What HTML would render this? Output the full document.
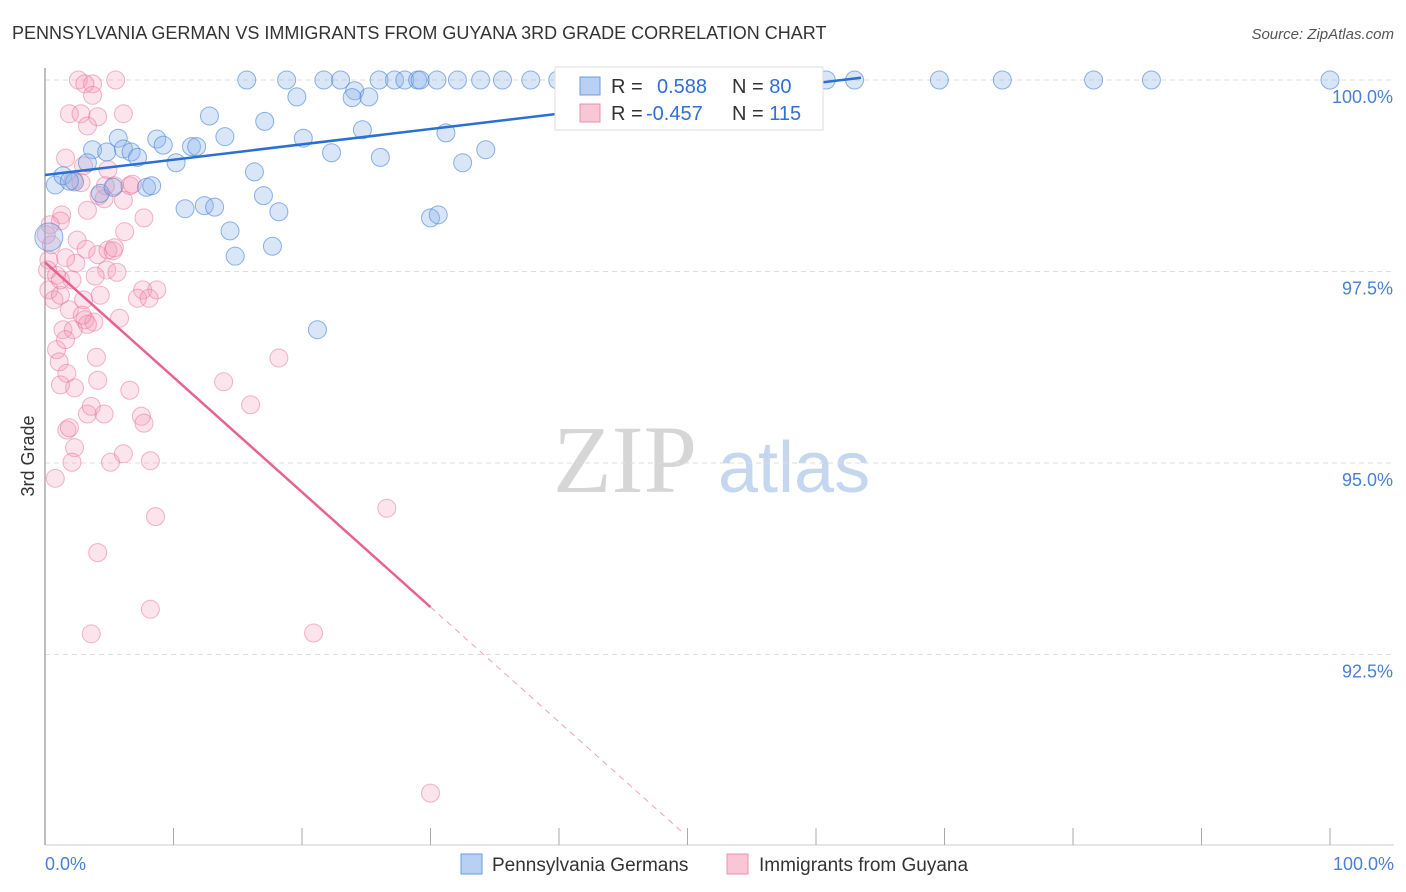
<!DOCTYPE html>
<html><head><meta charset="utf-8"><style>
body{margin:0;background:#fff;font-family:"Liberation Sans",sans-serif;}
svg{display:block}
</style></head><body>
<svg id="chart" width="1406" height="892" xmlns="http://www.w3.org/2000/svg">
<text x="12" y="39" font-size="18" fill="#333">PENNSYLVANIA GERMAN VS IMMIGRANTS FROM GUYANA 3RD GRADE CORRELATION CHART</text>
<text x="1394" y="39" font-size="15" fill="#555" font-style="italic" text-anchor="end">Source: ZipAtlas.com</text>
<g>
<text x="553" y="492" font-size="96" fill="#d6d6d6" font-family="Liberation Serif,serif">ZIP</text>
<text x="718" y="492" font-size="72" fill="#c5d7ee">atlas</text>
</g>
<g id="grid"></g>
<g id="axes"></g>
<g id="pink"></g>
<g id="blue"></g>
<g id="lines"></g>
<g>
<rect x="555" y="67" width="268" height="63" fill="#fff" stroke="#ddd"/>
<rect x="580" y="77" width="20" height="18" fill="#b8d0f3" stroke="#6a9ee0"/>
<rect x="580" y="104" width="20" height="18" fill="#f8c6d4" stroke="#ec8fab"/>
<text x="611" y="93" font-size="20" fill="#333">R = </text>
<text x="657" y="93" font-size="20" fill="#2f6fd6">0.588</text>
<text x="732" y="93" font-size="20" fill="#333">N = <tspan fill="#2f6fd6">80</tspan></text>
<text x="611" y="120" font-size="20" fill="#333">R = </text>
<text x="646" y="120" font-size="20" fill="#2f6fd6">-0.457</text>
<text x="732" y="120" font-size="20" fill="#333">N = <tspan fill="#2f6fd6">115</tspan></text>
</g>
<text transform="translate(34,456) rotate(-90)" font-size="18" fill="#333" text-anchor="middle">3rd Grade</text>
<text x="45" y="870" font-size="18" fill="#4a7fd4">0.0%</text>
<text x="1394" y="870" font-size="18" fill="#4a7fd4" text-anchor="end">100.0%</text>
<g>
<rect x="461" y="854" width="21" height="20" fill="#b8d0f3" stroke="#6a9ee0"/>
<text x="492" y="871" font-size="19" fill="#333">Pennsylvania Germans</text></g>
<g>
<rect x="727" y="854" width="21" height="20" fill="#f8c6d4" stroke="#ec8fab"/>
<text x="759" y="871" font-size="19" fill="#333">Immigrants from Guyana</text></g>
</svg>
<script>
const yTicks=[100,97.5,95,92.5];
const yTickLabels=["100.0%","97.5%","95.0%","92.5%"];
const blueX=[15.7,18.8,21.7,23.0,26.0,27.2,28.0,29.0,29.2,30.5,32.1,33.9,35.6,37.8,39.9,45.1,46.5,53.9,55.6,58.4,60.8,63.0,69.6,74.5,81.6,86.1,100,
19.6,24.1,25.2,23.9,12.8,17.1,24.7,31.2,20.1,5.7,8.7,14.0,34.3,3.7,4.8,6.1,6.7,9.2,11.4,11.8,7.2,10.2,22.3,26.1,32.5,16.3,0.8,1.4,2.3,1.9,3.3,4.3,5.3,7.9,8.3,10.9,12.4,13.2,17.0,18.2,14.4,14.8,17.7,30.0,30.6,21.2,0.3];
const blueY=[100,100,100,100,100,100,100,100,100,100,100,100,100,100,100,100,100,100,100,100,100,100,100,100,100,100,100,
99.78,99.86,99.78,99.77,99.53,99.46,99.35,99.31,99.24,99.24,99.23,99.26,99.09,99.09,99.06,99.10,99.06,99.15,99.13,99.13,98.99,98.92,99.05,98.99,98.92,98.80,98.63,98.75,98.67,98.68,98.92,98.52,98.60,98.60,98.62,98.32,98.36,98.34,98.49,98.28,98.03,97.70,97.83,98.20,98.24,96.74,97.95];
const pinkX=[2.6,3.7,3.1,5.5,3.7,1.9,2.8,4.1,6.1,3.3,1.6,4.9,3.0,2.2,2.8,4.7,4.2,4.6,5.4,6.6,6.1,6.8,7.7,3.3,1.3,1.2,0.4,0.1,2.5,2.4,0.3,1.6,3.2,4.1,4.9,5.3,5.4,6.2,7.6,8.7,7.2,8.1,0.3,0.7,1.9,3.0,4.3,4.8,5.6,3.9,2.1,0.9,1.2,3.1,3.8,5.8,1.4,2.2,3.3,0.9,1.1,1.7,4.0,2.3,3.3,4.1,1.2,6.6,4.6,3.6,7.5,7.7,1.7,1.9,2.3,2.1,5.1,6.1,8.2,0.8,8.6,4.1,8.2,3.6,13.9,16.0,18.2,26.6,20.9,30.0,1.2,0.2,0.5,1.6,2.9];
const pinkY=[100,99.95,99.95,100,99.80,99.56,99.56,99.52,99.56,99.40,98.98,98.83,98.88,98.69,98.66,98.62,98.49,98.45,98.62,98.62,98.43,98.64,98.20,98.30,98.24,98.16,98.11,97.98,97.91,97.61,97.65,97.68,97.79,97.72,97.78,97.77,97.81,98.02,97.26,97.26,97.15,97.15,97.26,97.13,97.00,97.13,97.19,97.52,97.49,97.44,97.39,97.45,97.19,96.87,96.84,96.89,96.74,96.74,96.81,96.48,96.32,96.17,96.38,95.98,95.64,96.08,96.02,95.95,95.64,95.74,95.61,95.52,95.43,95.46,95.20,95.01,95.01,95.12,95.03,94.80,94.30,93.83,93.09,92.77,96.06,95.76,96.37,94.41,92.78,90.69,97.39,97.52,97.85,96.61,96.93];
const blueTrend=[[0,98.76],[63.5,100.03]];
const pinkTrend=[[0,97.62],[30,93.12]];
const pinkDash=[[30,93.12],[49.8,90.15]];
const NS="http://www.w3.org/2000/svg";
const xs=p=>45+p*12.85;
const ys=v=>80+(100-v)*76.6;
function mk(tag,attrs,parent){const e=document.createElementNS(NS,tag);for(const k in attrs)e.setAttribute(k,attrs[k]);parent.appendChild(e);return e;}
const grid=document.getElementById('grid');
yTicks.forEach((t,i)=>{
 const l=mk('line',{x1:45,x2:1394,y1:ys(t),y2:ys(t),stroke:'#ddd','stroke-dasharray':'5,4'},grid);
 
 
 const tx=mk('text',{x:1393,y:ys(t)+23,'font-size':18,fill:'#4a7fd4','text-anchor':'end'},grid);
 tx.textContent=yTickLabels[i];
 
 
});
const axes=document.getElementById('axes');
const ya=mk('line',{x1:45,x2:45,y1:68,y2:845,stroke:'#aaa','stroke-width':1.5},axes);


const xa=mk('line',{x1:45,x2:1394,y1:845,y2:845,stroke:'#ccc'},axes);


for(let i=0;i<=10;i++){
 const t=mk('line',{x1:xs(i*10),x2:xs(i*10),y1:828,y2:845,stroke:'#aaa'},axes);
 
 
}
const pg=document.getElementById('pink');
pinkX.forEach((x,i)=>{
 const c=mk('circle',{cx:xs(x),cy:ys(pinkY[i]),r:9,fill:'rgba(242,150,180,0.26)',stroke:'rgba(232,110,150,0.5)','stroke-width':1},pg);
 
 
});
const bg=document.getElementById('blue');
blueX.forEach((x,i)=>{
 const big=(i===blueX.length-1);
 const c=mk('circle',{cx:xs(x),cy:ys(blueY[i]),r:big?14:9,fill:'rgba(140,180,235,0.33)',stroke:'rgba(70,130,215,0.6)','stroke-width':1},bg);
 
 
});
const lg=document.getElementById('lines');
const b=mk('line',{x1:xs(blueTrend[0][0]),y1:ys(blueTrend[0][1]),x2:xs(blueTrend[1][0]),y2:ys(blueTrend[1][1]),stroke:'#2a6fd4','stroke-width':2.5},lg);


const p=mk('line',{x1:xs(pinkTrend[0][0]),y1:ys(pinkTrend[0][1]),x2:xs(pinkTrend[1][0]),y2:ys(pinkTrend[1][1]),stroke:'#e8628e','stroke-width':2.5},lg);


const pd=mk('line',{x1:xs(pinkDash[0][0]),y1:ys(pinkDash[0][1]),x2:xs(pinkDash[1][0]),y2:ys(pinkDash[1][1]),stroke:'#f0a0b8','stroke-width':1,'stroke-dasharray':'6,5'},lg);


</script>
</body></html>
